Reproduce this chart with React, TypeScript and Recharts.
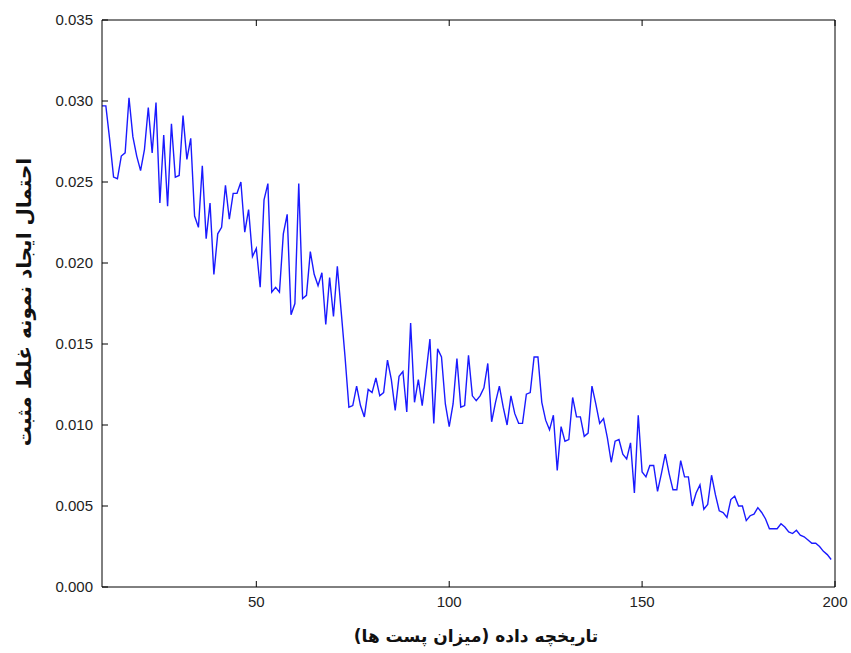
import { LineChart, Line, XAxis, YAxis } from "recharts";

// history size runs 10, 11, 12 ... one point per step
const firstHistorySize = 10;

const falsePositiveRate = [
  0.0297, 0.0297, 0.0276, 0.0253, 0.0252, 0.0266, 0.0268, 0.0302, 0.0278, 0.0266,
  0.0257, 0.027, 0.0296, 0.0268, 0.0299, 0.0237, 0.0279, 0.0235, 0.0286, 0.0253,
  0.0254, 0.0291, 0.0264, 0.0277, 0.0229, 0.0222, 0.026, 0.0215, 0.0237, 0.0193,
  0.0218, 0.0222, 0.0248, 0.0227, 0.0243, 0.0243, 0.025, 0.0219, 0.0233, 0.0204,
  0.0209, 0.0185, 0.0239, 0.0249, 0.0182, 0.0185, 0.0182, 0.0218, 0.023, 0.0168,
  0.0175, 0.0249, 0.0178, 0.018, 0.0207, 0.0193, 0.0186, 0.0194, 0.0162, 0.0191,
  0.0167, 0.0198, 0.017, 0.0142, 0.0111, 0.0112, 0.0124, 0.0112, 0.0105, 0.0122,
  0.012, 0.0129, 0.0118, 0.012, 0.014, 0.0128, 0.0109, 0.013, 0.0133, 0.0108,
  0.0163, 0.0114, 0.0128, 0.0112, 0.0132, 0.0153, 0.0101, 0.0147, 0.0142, 0.0113,
  0.0099, 0.0113, 0.0141, 0.0111, 0.0112, 0.0143, 0.0118, 0.0115, 0.0118, 0.0123,
  0.0138, 0.0102, 0.0114, 0.0124, 0.0111, 0.01, 0.0118, 0.0107, 0.0101, 0.0101,
  0.0119, 0.012, 0.0142, 0.0142, 0.0114, 0.0103, 0.0097, 0.0106, 0.0072, 0.0099,
  0.009, 0.0091, 0.0117, 0.0105, 0.0105, 0.0093, 0.0095, 0.0124, 0.0113, 0.0101,
  0.0104, 0.0092, 0.0077, 0.009, 0.0091, 0.0082, 0.0079, 0.0089, 0.0058, 0.0106,
  0.0071, 0.0068, 0.0075, 0.0075, 0.0059, 0.007, 0.0082, 0.007, 0.006, 0.006,
  0.0078, 0.0068, 0.0068, 0.005, 0.0058, 0.0063, 0.0048, 0.0051, 0.0069, 0.0057,
  0.0047, 0.0046, 0.0043, 0.0054, 0.0056, 0.005, 0.005, 0.0041, 0.0044, 0.0045,
  0.0049, 0.0046, 0.0042, 0.0036, 0.0036, 0.0036, 0.0039, 0.0037, 0.0034, 0.0033,
  0.0035, 0.0032, 0.0031, 0.0029, 0.0027, 0.0027, 0.0025, 0.0022, 0.002, 0.0017,
];

const yTicks = [0, 0.005, 0.01, 0.015, 0.02, 0.025, 0.03, 0.035];
const xTicks = [50, 100, 150, 200];

const xTitle = "تاریخچه داده (میزان پست ها)";
const yTitle = "احتمال ایجاد نمونه غلط مثبت";

const data = falsePositiveRate.map((p, i) => ({ size: firstHistorySize + i, p }));

const tickFont = "'Liberation Sans', Arial, sans-serif";
const titleFont = "'DejaVu Sans', sans-serif";

function LeftTick({ x, y, payload }: any) {
  return (
    <g>
      <line x1={x} y1={y} x2={x + 6} y2={y} stroke="#000" />
      <text x={x - 9} y={y} dy={5} textAnchor="end" fontSize={15} fill="#222" fontFamily={tickFont}>
        {payload.value.toFixed(3)}
      </text>
    </g>
  );
}

function RightTick({ x, y }: any) {
  return <line x1={x} y1={y} x2={x - 6} y2={y} stroke="#000" />;
}

function BottomTick({ x, y, payload }: any) {
  return (
    <g>
      <line x1={x} y1={y} x2={x} y2={y - 6} stroke="#000" />
      <text x={x} y={y + 20} textAnchor="middle" fontSize={15} fill="#222" fontFamily={tickFont}>
        {payload.value}
      </text>
    </g>
  );
}

function TopTick({ x, y }: any) {
  return <line x1={x} y1={y} x2={x} y2={y + 6} stroke="#000" />;
}

export default function App() {
  return (
    <div style={{ position: "absolute", left: 0, top: 0, width: 851, height: 653, background: "#fff" }}>
      <LineChart width={851} height={653} data={data} margin={{ top: 10, right: 6, bottom: 26, left: 0 }}>
        <XAxis
          dataKey="size"
          type="number"
          domain={[10, 200]}
          ticks={xTicks}
          interval={0}
          height={40}
          tickSize={0}
          tickMargin={0}
          tickLine={false}
          axisLine={{ stroke: "#000" }}
          tick={<BottomTick />}
        />
        <XAxis
          xAxisId="top"
          orientation="top"
          dataKey="size"
          type="number"
          domain={[10, 200]}
          ticks={xTicks}
          interval={0}
          height={10}
          tickSize={0}
          tickMargin={0}
          tickLine={false}
          axisLine={{ stroke: "#000" }}
          tick={<TopTick />}
        />
        <YAxis
          type="number"
          domain={[0, 0.035]}
          ticks={yTicks}
          interval={0}
          width={102}
          tickSize={0}
          tickMargin={0}
          tickLine={false}
          axisLine={{ stroke: "#000" }}
          tick={<LeftTick />}
        />
        <YAxis
          yAxisId="right"
          orientation="right"
          type="number"
          domain={[0, 0.035]}
          ticks={yTicks}
          interval={0}
          width={10}
          tickSize={0}
          tickMargin={0}
          tickLine={false}
          axisLine={{ stroke: "#000" }}
          tick={<RightTick />}
        />
        <Line
          type="linear"
          dataKey="p"
          stroke="#1a1aff"
          strokeWidth={1.4}
          dot={false}
          isAnimationActive={false}
        />
      </LineChart>
      <div
        dir="rtl"
        style={{
          position: "absolute",
          left: 476,
          top: 636,
          transform: "translate(-50%, -50%)",
          whiteSpace: "nowrap",
          fontFamily: titleFont,
          fontWeight: "bold",
          fontSize: 17,
          color: "#111",
        }}
      >
        {xTitle}
      </div>
      <div
        dir="rtl"
        style={{
          position: "absolute",
          left: 24,
          top: 302,
          transform: "translate(-50%, -50%) rotate(-90deg)",
          whiteSpace: "nowrap",
          fontFamily: titleFont,
          fontWeight: "bold",
          fontSize: 20,
          color: "#111",
        }}
      >
        {yTitle}
      </div>
    </div>
  );
}
